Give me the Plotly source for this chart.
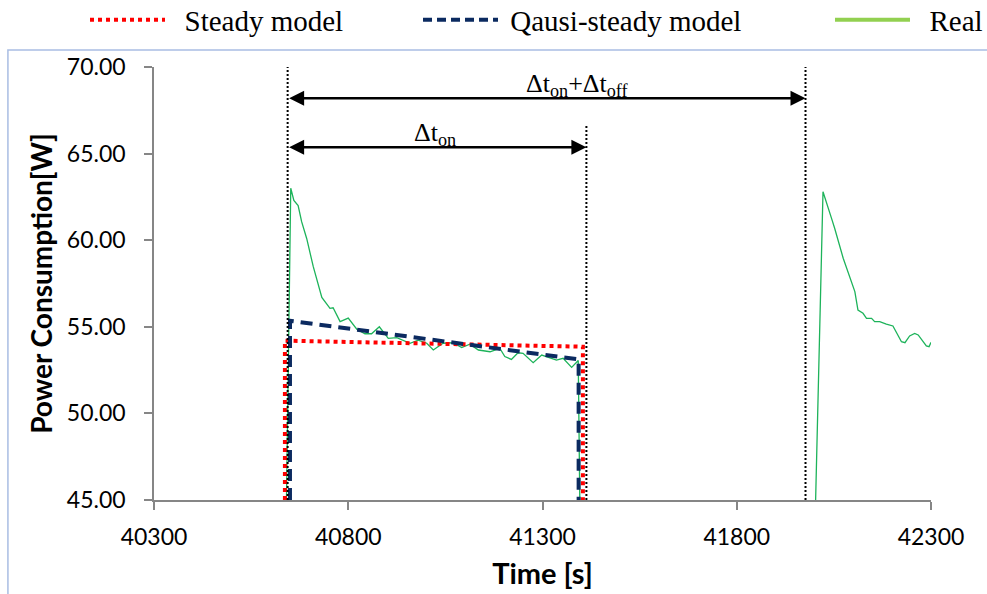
import plotly.graph_objects as go

# ---------------- data ----------------
time_steady = [40637, 40637, 41404, 41404]
power_steady = [45.0, 54.2, 53.85, 45.0]

time_quasi = [40650, 40650, 41393, 41393]
power_quasi = [45.0, 55.35, 53.12, 45.0]

time_real = [40641, 40652, 40660, 40671, 40680, 40693, 40710, 40732, 40753, 40761,
             40779, 40800, 40822, 40843, 40860, 40880, 40903, 40925, 40959, 40980,
             41002, 41019, 41044, 41070, 41092, 41113, 41135, 41165, 41190, 41203,
             41220, 41237, 41250, 41276, 41298, 41315, 41336, 41353, 41375, 41392,
             41396, None,
             42003, 42022, 42044, 42052, 42074, 42104, 42112, 42125, 42134, 42147,
             42155, 42168, 42185, 42202, 42224, 42233, 42245, 42258, 42267, 42288,
             42295, 42300]
power_real = [45.0, 63.0, 62.3, 62.0, 61.07, 60.1, 58.47, 56.7, 56.07, 56.1,
              55.3, 55.5, 54.86, 54.6, 54.6, 55.0, 54.33, 54.37, 54.05, 54.23,
              54.05, 53.66, 54.05, 54.08, 53.8, 54.0, 53.66, 53.56, 53.76, 53.28,
              53.12, 53.5, 53.47, 52.93, 53.37, 53.22, 53.08, 53.18, 52.66, 53.05,
              45.0, None,
              45.0, 62.8, 61.26, 60.69, 58.96, 57.03, 55.97, 55.78, 55.49, 55.49,
              55.3, 55.3, 55.16, 55.05, 54.14, 54.08, 54.47, 54.62, 54.53, 53.9,
              53.85, 54.1]

marker_times = [40644, 41413, 41977]
marker_tops = [70.0, 66.6, 70.0]

arrow_full = (40644, 41977, 68.19)
arrow_on = (40644, 41413, 65.36)
label_full = "Δt<sub>on</sub>+Δt<sub>off</sub>"
label_on = "Δt<sub>on</sub>"

x_ticks = [40300, 40800, 41300, 41800, 42300]
y_ticks = [45, 50, 55, 60, 65, 70]

# ---------------- figure ----------------
SERIF = "Liberation Serif"
SANS = "Lato"
fig = go.Figure()

fig.add_trace(go.Scatter(x=time_real, y=power_real, mode="lines",
                         line=dict(color="#1db35a", width=1.3),
                         showlegend=False, connectgaps=False))
fig.add_trace(go.Scatter(x=time_steady, y=power_steady, mode="lines",
                         line=dict(color="#ff0000", width=4, dash="4px,4px"),
                         showlegend=False))
fig.add_trace(go.Scatter(x=time_quasi, y=power_quasi, mode="lines",
                         line=dict(color="#0b2a60", width=4, dash="12px,7px"),
                         showlegend=False))
for t, top in zip(marker_times, marker_tops):
    fig.add_trace(go.Scatter(x=[t, t], y=[45, top], mode="lines",
                             line=dict(color="black", width=2, dash="2px,2px"),
                             showlegend=False))

# legend entries
fig.add_trace(go.Scatter(x=[None], y=[None], mode="lines", name="&nbsp;&nbsp;Steady model",
                         line=dict(color="#ff0000", width=4, dash="4px,4px"),
                         legend="legend"))
fig.add_trace(go.Scatter(x=[None], y=[None], mode="lines", name="&nbsp;Qausi-steady model",
                         line=dict(color="#0b2a60", width=4, dash="9px,5px"),
                         legend="legend2"))
fig.add_trace(go.Scatter(x=[None], y=[None], mode="lines", name="&nbsp;&nbsp;Real",
                         line=dict(color="#92d050", width=4),
                         legend="legend3"))

# arrows
for (x0, x1, yv) in [arrow_full, arrow_on]:
    fig.add_annotation(x=x1, y=yv, ax=x0, ay=yv, xref="x", yref="y",
                       axref="x", ayref="y", text="", showarrow=True,
                       arrowhead=2, arrowside="end+start", arrowsize=1.2,
                       arrowwidth=2.5, arrowcolor="black", standoff=0, startstandoff=0)

fig.add_annotation(x=41390, y=68.98, xref="x", yref="y", text=label_full,
                   showarrow=False, font=dict(family=SERIF, size=26, color="black"),
                   xanchor="center", yanchor="middle")
fig.add_annotation(x=41024, y=66.15, xref="x", yref="y", text=label_on,
                   showarrow=False, font=dict(family=SERIF, size=26, color="black"),
                   xanchor="center", yanchor="middle")

# outer frame
fig.add_shape(type="rect", xref="paper", yref="paper",
              x0=-0.188, x1=1.3, y0=-0.4, y1=1.039,
              line=dict(color="#a9bde3", width=1.5), fillcolor="rgba(0,0,0,0)", layer="below")

legend_common = dict(orientation="h", yanchor="middle", xanchor="left",
                     font=dict(family=SERIF, size=29, color="black"),
                     bgcolor="rgba(0,0,0,0)", borderwidth=0, itemwidth=75)

fig.update_layout(
    width=987, height=594,
    margin=dict(l=154, r=56, t=67, b=94, autoexpand=False),
    paper_bgcolor="white", plot_bgcolor="white",
    legend=dict(x=-0.0888, y=1.1085, **legend_common),
    legend2=dict(x=0.3398, y=1.1085, **legend_common),
    legend3=dict(x=0.870, y=1.1085, **legend_common),
    xaxis=dict(range=[40300, 42300], tickvals=x_ticks, ticktext=[str(v) for v in x_ticks],
               showgrid=False, zeroline=False, showline=True, linecolor="#868686", linewidth=1.5,
               ticks="outside", ticklen=8, tickcolor="#868686", tickwidth=1.5,
               tickfont=dict(family=SANS, size=23, color="black"), ticklabelstandoff=8,
               title=dict(text="<b>Time [s]</b>", font=dict(family=SANS, size=29, color="black"),
                          standoff=14)),
    yaxis=dict(range=[45, 70], tickvals=y_ticks, ticktext=[f"{v:.2f}" for v in y_ticks],
               showgrid=False, zeroline=False, showline=True, linecolor="#868686", linewidth=1.5,
               ticks="outside", ticklen=8, tickcolor="#868686", tickwidth=1.5,
               tickfont=dict(family=SANS, size=23, color="black"), ticklabelstandoff=14,
               title=dict(text="<b>Power Consumption[W]</b>",
                          font=dict(family=SANS, size=28, color="black"), standoff=6)),
)

fig.write_html("out.html")
